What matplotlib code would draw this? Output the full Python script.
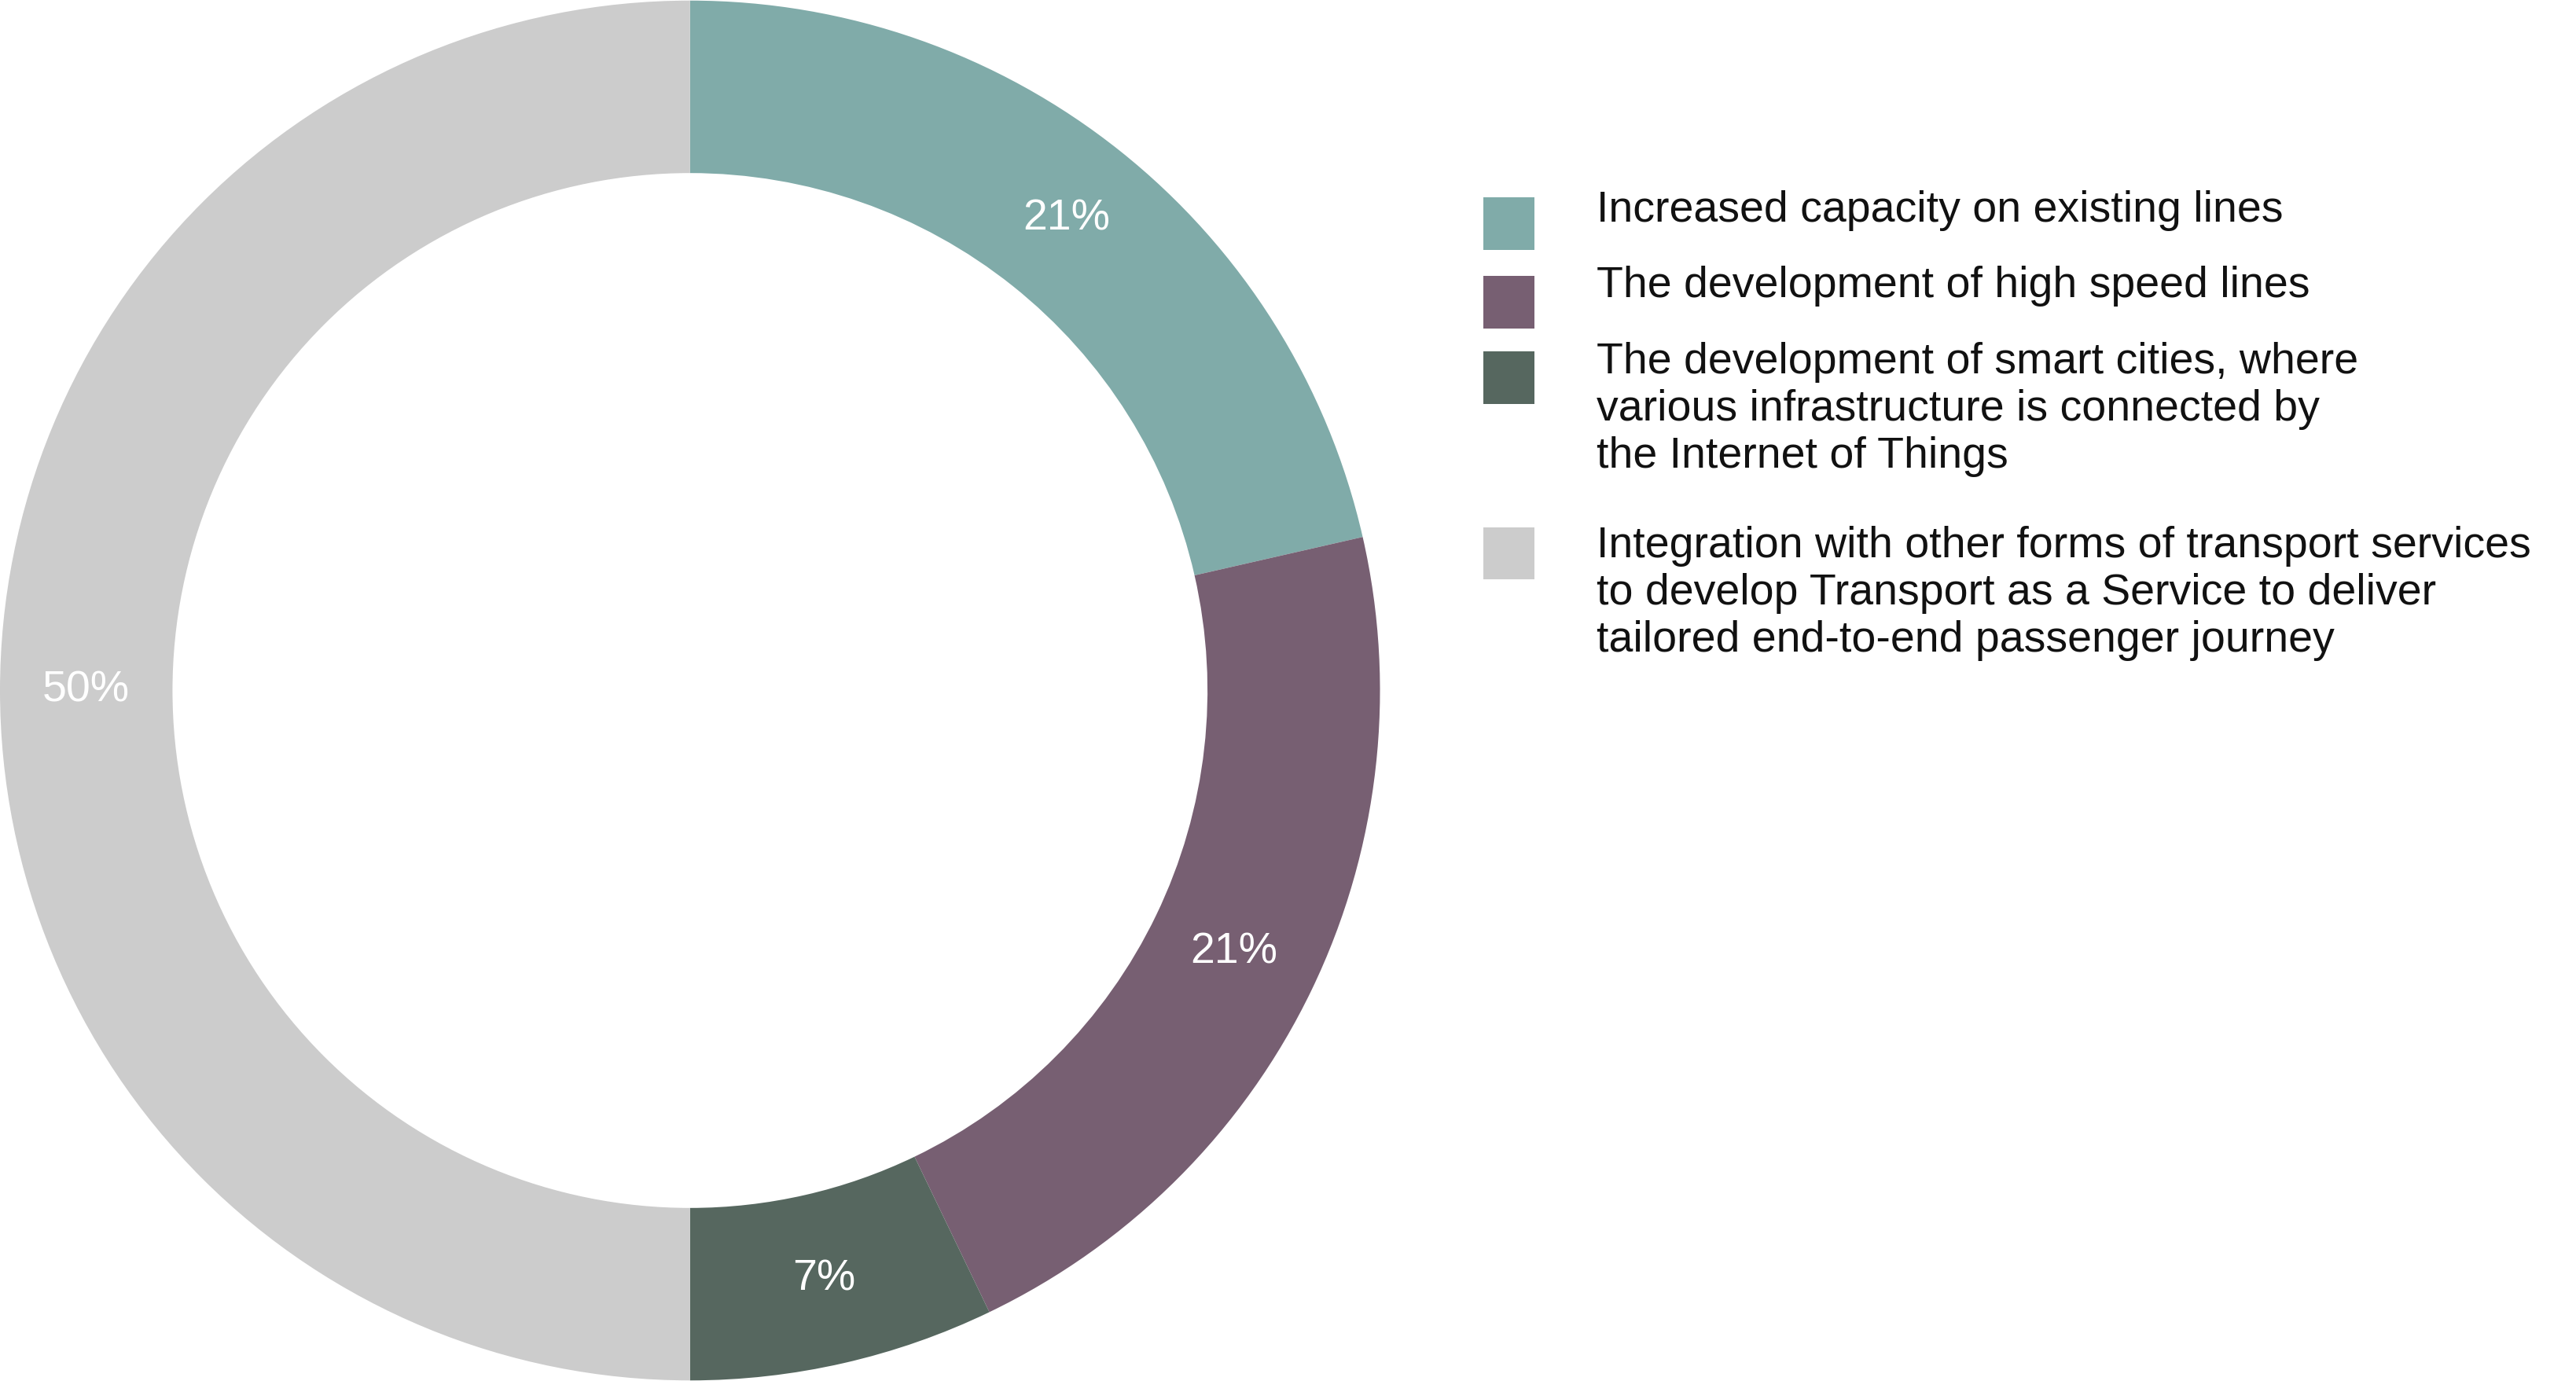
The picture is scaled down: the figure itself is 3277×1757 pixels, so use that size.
import matplotlib.pyplot as plt
from matplotlib.patches import Rectangle

# survey counts (3/14, 3/14, 1/14, 7/14)
counts = [3, 3, 1, 7]
pct_labels = ['21%', '21%', '7%', '50%']
colors = ['#80ABA9', '#775F72', '#56675F', '#CCCCCC']
legend_labels = [
    'Increased capacity on existing lines',
    'The development of high speed lines',
    'The development of smart cities, where\nvarious infrastructure is connected by\nthe Internet of Things',
    'Integration with other forms of transport services\nto develop Transport as a Service to deliver\ntailored end-to-end passenger journey',
]

W, H = 1568, 841  # reference layout units
fig = plt.figure(figsize=(16.385, 8.785), dpi=200)
plt.rcParams['font.family'] = ['Liberation Sans', 'DejaVu Sans']

ax = fig.add_axes([0, 0, 840 / W, 1])
wedges, texts = ax.pie(counts, colors=colors, startangle=90, counterclock=False,
                       labels=pct_labels, labeldistance=0.875,
                       wedgeprops=dict(width=0.25, linewidth=0),
                       textprops=dict(color='white', fontsize=20, ha='center', va='center'))
ax.set_xlim(-1, 1)
ax.set_ylim(-1, 1)
ax.set_aspect('equal')

# legend drawn by hand
sq_y = [136, 184, 230, 337]
txt_y = [116, 162, 208, 320]
for c, lab, sy, ty in zip(colors, legend_labels, sq_y, txt_y):
    fig.patches.append(Rectangle((903 / W, 1 - (sy + 16) / H), 31 / W, 32 / H,
                                 transform=fig.transFigure, facecolor=c, edgecolor='none'))
    fig.text(972 / W, 1 - ty / H, lab, fontsize=20, va='top', ha='left',
             color='#111111', linespacing=1.2)

fig.savefig('out.png', dpi=200, facecolor='white')
